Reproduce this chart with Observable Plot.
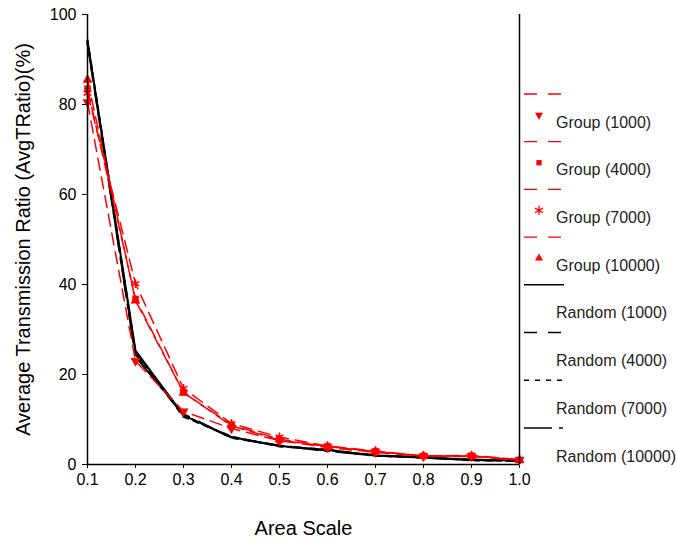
<!DOCTYPE html>
<html>
<head>
<meta charset="utf-8">
<script src="https://cdn.jsdelivr.net/npm/d3@7"></script>
<script src="https://cdn.jsdelivr.net/npm/@observablehq/plot@0.6"></script>
<style>
  html, body { margin: 0; padding: 0; background: white; }
  #wrap { position: relative; width: 676px; height: 542px; }
  #wrap svg { display: block; }
  #legend { position: absolute; left: 0; top: 0; pointer-events: none; }
  #chart [aria-label="x-axis label"] text, #chart [aria-label="y-axis label"] text { font-size: 20px; }
  #chart [aria-label="x-axis tick label"] text, #chart [aria-label="y-axis tick label"] text { font-size: 16px; }
</style>
</head>
<body>
<div id="wrap"><div id="chart"></div></div>
<script>
// ---- data ----
const areaScale = [0.1, 0.2, 0.3, 0.4, 0.5, 0.6, 0.7, 0.8, 0.9, 1.0];
const random1000  = [94.1, 25.3, 10.9, 6.1, 4.1, 3.2, 2.0, 1.6, 1.0, 0.9];
const random4000  = [93.5, 24.5, 11.2, 6.0, 4.2, 3.1, 2.1, 1.5, 1.0, 0.8];
const random7000  = [94.3, 25.0, 10.6, 6.2, 4.0, 3.3, 1.9, 1.6, 0.9, 0.9];
const random10000 = [93.8, 24.0, 11.0, 5.9, 4.2, 3.0, 2.0, 1.5, 1.1, 0.8];
const group1000   = [80.5, 23.0, 11.8, 8.0, 5.3, 3.8, 2.7, 1.8, 1.8, 1.0];
const group4000   = [83.5, 36.8, 16.0, 8.6, 5.4, 4.0, 2.9, 1.9, 1.9, 1.0];
const group7000   = [82.5, 40.2, 16.9, 9.1, 6.1, 4.1, 3.0, 1.9, 2.0, 1.1];
const group10000  = [85.5, 36.4, 16.0, 8.8, 5.6, 4.0, 2.9, 1.9, 1.9, 1.0];
const xTicks = [0.1, 0.2, 0.3, 0.4, 0.5, 0.6, 0.7, 0.8, 0.9, 1.0];
const yTicks = [0, 20, 40, 60, 80, 100];
const xLabel = "Area Scale";
const yLabel = "Average Transmission Ratio (AvgTRatio)(%)";

const triangleDown = {
  draw(context, size) {
    const s = Math.sqrt(4 * size / Math.sqrt(3));
    const h = Math.sqrt(3) / 2 * s;
    context.moveTo(0, 2 * h / 3);
    context.lineTo(-s / 2, -h / 3);
    context.lineTo(s / 2, -h / 3);
    context.closePath();
  }
};

const series = [
  {name: "Group (1000)",    values: group1000,   color: "#ff0000", dash: "13,11", plotDash: "12,7", symbol: triangleDown, width: 1.5},
  {name: "Group (4000)",    values: group4000,   color: "#ff0000", dash: "13,11", plotDash: "12,7", symbol: "square",     width: 1.5},
  {name: "Group (7000)",    values: group7000,   color: "#ff0000", dash: "13,11", plotDash: "12,7", symbol: "asterisk",   width: 1.5},
  {name: "Group (10000)",   values: group10000,  color: "#ff0000", dash: "13,11", plotDash: "12,7", symbol: "triangle",   width: 1.5},
  {name: "Random (1000)",   values: random1000,  color: "#000000", dash: null,    plotDash: null, symbol: null, width: 2},
  {name: "Random (4000)",   values: random4000,  color: "#000000", dash: "13,11", plotDash: "13,11", symbol: null, width: 2},
  {name: "Random (7000)",   values: random7000,  color: "#000000", dash: "5,6",   plotDash: "5,6", symbol: null, width: 2},
  {name: "Random (10000)",  values: random10000, color: "#000000", dash: "28,7,4,7", plotDash: "28,7,4,7", symbol: null, width: 2}
];

const rows = s => areaScale.map((x, i) => ({x, y: s.values[i], series: s.name}));

const lineMarks = [...series.slice(4), ...series.slice(0, 4)].map(s =>
  Plot.line(rows(s), {x: "x", y: "y", stroke: s.color, strokeWidth: s.width,
    strokeDasharray: s.plotDash ?? undefined, strokeLinejoin: "miter"}));

const dotMarks = series.filter(s => s.symbol).map(s =>
  s.symbol === "asterisk"
    ? Plot.dot(rows(s), {x: "x", y: "y", symbol: () => "asterisk", r: 4.2, stroke: s.color, fill: "none", strokeWidth: 1.5})
    : Plot.dot(rows(s), {x: "x", y: "y", symbol: () => s.symbol, r: 3.7, fill: s.color, stroke: "none"}));

const chart = Plot.plot({
  width: 676, height: 542,
  marginLeft: 87, marginRight: 157, marginTop: 14, marginBottom: 78,
  style: {fontFamily: "'Liberation Sans', Arial, sans-serif", fontSize: "16px", background: "white", color: "black"},
  x: {domain: [0.1, 1.0], ticks: xTicks, tickFormat: d3.format(".1f"), tickSize: 4, tickPadding: 5,
      label: xLabel, labelAnchor: "center", labelOffset: 70, labelArrow: "none"},
  y: {domain: [0, 100], ticks: yTicks, tickSize: 5, tickPadding: 6,
      label: yLabel, labelAnchor: "center", labelOffset: 72, labelArrow: "none"},
  marks: [
    ...lineMarks,
    ...dotMarks,
    Plot.ruleX([areaScale[0], areaScale[areaScale.length - 1]], {stroke: "black", strokeWidth: 1.5}),
    Plot.ruleY([0], {stroke: "black", strokeWidth: 1.5})
  ]
});
document.getElementById("chart").appendChild(chart);

// ---- legend ----
const legend = d3.select("#wrap").append("svg")
  .attr("id", "legend").attr("width", 676).attr("height", 542)
  .style("font-family", "'Liberation Sans', Arial, sans-serif").style("font-size", "16px");
const symMap = {square: d3.symbolSquare, triangle: d3.symbolTriangle, asterisk: d3.symbolAsterisk};
series.forEach((s, i) => {
  const y0 = 94 + 47.7 * i;
  const g = legend.append("g");
  g.append("line").attr("x1", 524).attr("x2", 564).attr("y1", y0).attr("y2", y0)
    .attr("stroke", s.color).attr("stroke-width", s.color === "#000000" ? 1.5 : 1.3)
    .attr("stroke-dasharray", s.dash);
  if (s.symbol) {
    const sym = typeof s.symbol === "string" ? symMap[s.symbol] : s.symbol;
    const path = d3.symbol(sym, s.symbol === "asterisk" ? 60 : 28)();
    const p = g.append("path").attr("d", path).attr("transform", `translate(539,${y0 + 21})`);
    if (s.symbol === "asterisk") p.attr("fill", "none").attr("stroke", s.color).attr("stroke-width", 1.3);
    else p.attr("fill", s.color);
  }
  g.append("text").attr("x", 556).attr("y", y0 + 28).attr("dy", "0.35em").attr("fill", "#222").text(s.name);
});
</script>
</body>
</html>
